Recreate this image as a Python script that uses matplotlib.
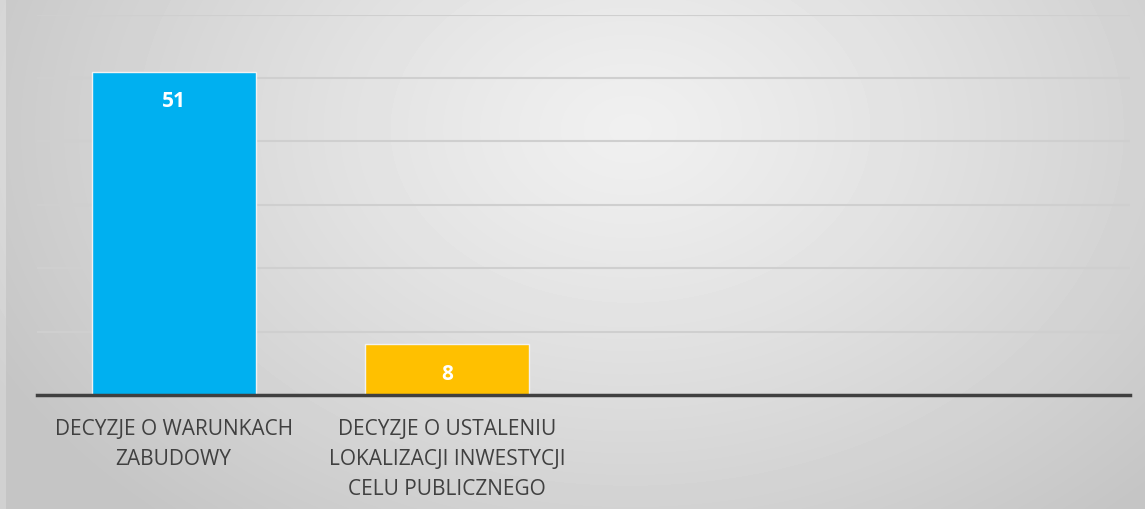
import numpy as np
import matplotlib
matplotlib.use("Agg")
import matplotlib.pyplot as plt

categories = ["DECYZJE O WARUNKACH\nZABUDOWY",
              "DECYZJE O USTALENIU\nLOKALIZACJI INWESTYCJI\nCELU PUBLICZNEGO",
              "", ""]
values = [51, 8, None, None]
bar_colors = ["#00B0F0", "#FFC000"]
yticks = [0, 10, 20, 30, 40, 50, 60]

W, H = 1145, 510
fig = plt.figure(figsize=(W / 100, H / 100), dpi=100)

# background radial gradient
bg = fig.add_axes([0, 0, 1, 1], zorder=0)
yy, xx = np.mgrid[0:H, 0:W]
cx, cy = 630, 130
r = np.sqrt(((xx - cx) / 720.0) ** 2 + ((yy - cy) / 520.0) ** 2)
light, dark = 0.94, 0.77
img = light - (light - dark) * np.clip(r, 0, 1) ** 1.2
img[:, 0:6] = np.minimum(img[:, 0:6] + 0.05, 0.9)
bg.imshow(img, cmap="gray", vmin=0, vmax=1, aspect="auto", interpolation="bilinear")
bg.axis("off")

ax = fig.add_axes([37 / W, 1 - 396 / H, 1093 / W, (396 - 15.5) / H], zorder=1)
ax.patch.set_alpha(0)
x = np.arange(len(categories))
for i, v in enumerate(values):
    if v is None:
        continue
    ax.bar(x[i], v, width=0.6, color=bar_colors[i], edgecolor="#f2f2f2",
           linewidth=1.0, zorder=3)
    ax.text(x[i], v - 4.6, str(v), ha="center", va="center", color="white",
            fontsize=15, fontweight="bold", family="Open Sans", zorder=4)

ax.set_xlim(-0.5, len(categories) - 0.5)
ax.set_ylim(0, 60)
ax.set_yticks(yticks)
ax.yaxis.grid(True, color="#cfcfcf", linewidth=1.5, zorder=0)
ax.set_axisbelow(True)
ax.tick_params(axis="y", left=False, labelleft=False)
ax.tick_params(axis="x", bottom=False, pad=13)
ax.set_xticks(x)
ax.set_xticklabels(categories, fontsize=15, color="#404040", family="Open Sans",
                   linespacing=1.58)
for s in ["top", "right", "left"]:
    ax.spines[s].set_visible(False)
ax.spines["bottom"].set_color("#404040")
ax.spines["bottom"].set_linewidth(2.5)
ax.spines["bottom"].set_zorder(5)

fig.savefig("out.png", dpi=100)
